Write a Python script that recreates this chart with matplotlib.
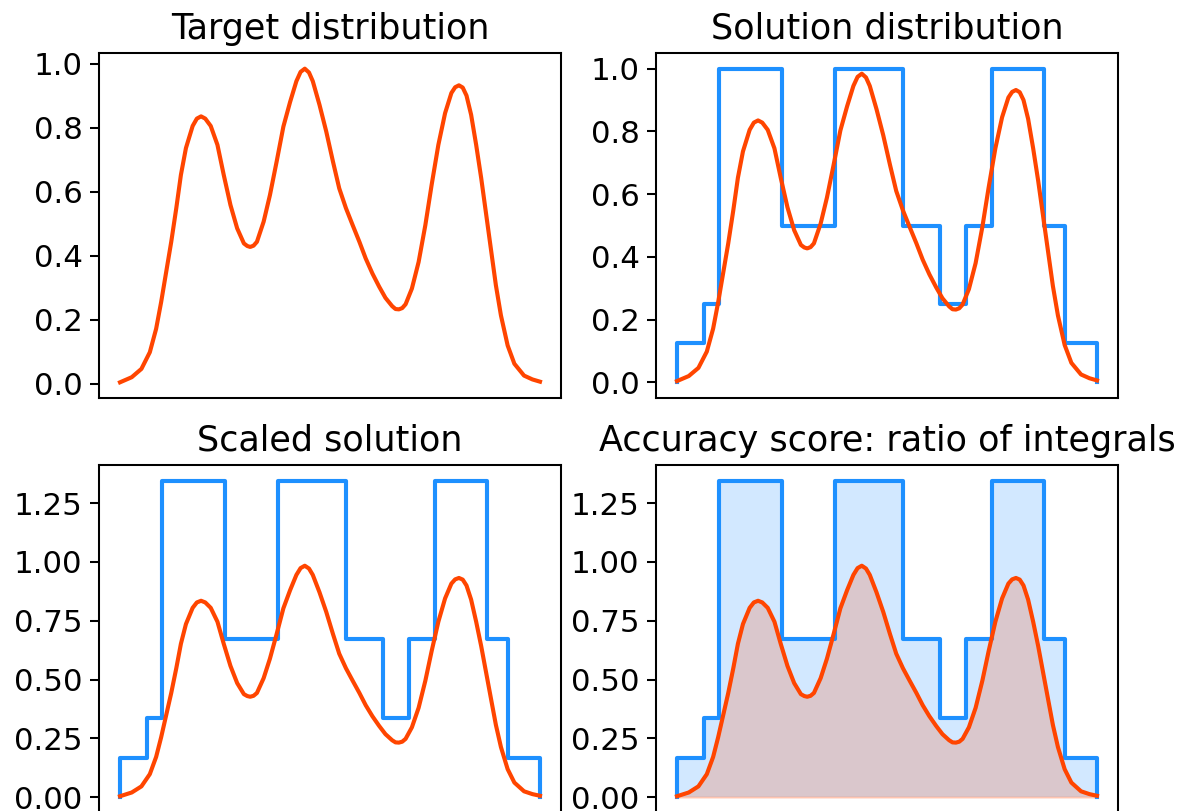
import numpy as np
import matplotlib.pyplot as plt
from matplotlib.ticker import MultipleLocator

# target curve (x scaled to 0..1)
x = [0.000, 0.028, 0.051, 0.071, 0.086, 0.098, 0.110, 0.122, 0.134, 0.145,
     0.157, 0.173, 0.183, 0.193, 0.203, 0.216, 0.232, 0.247, 0.263, 0.279,
     0.295, 0.303, 0.310, 0.318, 0.326, 0.342, 0.357, 0.373, 0.389, 0.405,
     0.420, 0.430, 0.440, 0.450, 0.459, 0.475, 0.491, 0.507, 0.522, 0.538,
     0.554, 0.570, 0.585, 0.601, 0.617, 0.632, 0.648, 0.656, 0.664, 0.672,
     0.680, 0.695, 0.711, 0.727, 0.742, 0.758, 0.774, 0.789, 0.798, 0.807,
     0.816, 0.825, 0.836, 0.848, 0.860, 0.872, 0.884, 0.895, 0.907, 0.923,
     0.939, 0.962, 0.982, 1.000]
target = [0.004, 0.020, 0.046, 0.098, 0.171, 0.255, 0.349, 0.443, 0.548, 0.652,
          0.736, 0.805, 0.828, 0.835, 0.828, 0.805, 0.746, 0.652, 0.558, 0.485,
          0.438, 0.430, 0.427, 0.431, 0.443, 0.506, 0.589, 0.694, 0.803, 0.880,
          0.945, 0.974, 0.984, 0.972, 0.945, 0.871, 0.788, 0.694, 0.610, 0.548,
          0.495, 0.443, 0.391, 0.344, 0.303, 0.268, 0.242, 0.233, 0.232, 0.236,
          0.248, 0.297, 0.380, 0.495, 0.621, 0.746, 0.845, 0.908, 0.926, 0.932,
          0.925, 0.900, 0.840, 0.746, 0.642, 0.527, 0.412, 0.307, 0.213, 0.119,
          0.062, 0.025, 0.013, 0.006]

# solution: step heights between bin edges
edges = [0.0, 0.0633, 0.101, 0.251, 0.375, 0.539, 0.626, 0.688, 0.751, 0.873, 0.923, 1.0]
heights = [0.125, 0.25, 1.0, 0.5, 1.0, 0.5, 0.25, 0.5, 1.0, 0.5, 0.125]
scale = 1.345

blue = '#1e90ff'
red = '#ff4500'

plt.rcParams['axes.linewidth'] = 1.0
plt.rcParams['xtick.labelsize'] = 15
plt.rcParams['ytick.labelsize'] = 15
plt.rcParams['ytick.major.size'] = 4.5
plt.rcParams['ytick.major.width'] = 1.0
plt.rcParams['axes.titlesize'] = 17
plt.rcParams['axes.titlepad'] = 7

step_x = np.repeat(edges, 2)
step_y = np.concatenate([[0], np.repeat(heights, 2), [0]])

fig = plt.figure(figsize=(1188 / 148, 811 / 148), dpi=148)
W, H = 1188, 811
ax1 = fig.add_axes([99 / W, (H - 398) / H, 462 / W, 345 / H])
ax2 = fig.add_axes([656 / W, (H - 398) / H, 462 / W, 345 / H])
ax3 = fig.add_axes([99 / W, -2 / H, 462 / W, 348 / H])
ax4 = fig.add_axes([656 / W, -2 / H, 462 / W, 348 / H])

lw = 2.0
ax1.plot(x, target, color=red, lw=lw)
ax1.set_title("Target distribution")

ax2.plot(step_x, step_y, color=blue, lw=lw)
ax2.plot(x, target, color=red, lw=lw)
ax2.set_title("Solution distribution")

ax3.plot(step_x, step_y * scale, color=blue, lw=lw)
ax3.plot(x, target, color=red, lw=lw)
ax3.set_title("Scaled solution")

ax4.fill_between(step_x, step_y * scale, color=blue, alpha=0.2, lw=0)
ax4.fill_between(x, target, color=red, alpha=0.2)
ax4.plot(step_x, step_y * scale, color=blue, lw=lw)
ax4.plot(x, target, color=red, lw=lw)
ax4.set_title("Accuracy score: ratio of integrals")

for ax in (ax1, ax2, ax3, ax4):
    ax.set_xticks([])
for ax in (ax1, ax2):
    ax.yaxis.set_major_locator(MultipleLocator(0.2))
for ax in (ax3, ax4):
    ax.yaxis.set_major_locator(MultipleLocator(0.25))
    ax.yaxis.set_major_formatter('{x:.2f}')

fig.savefig("out.png", dpi=148)
